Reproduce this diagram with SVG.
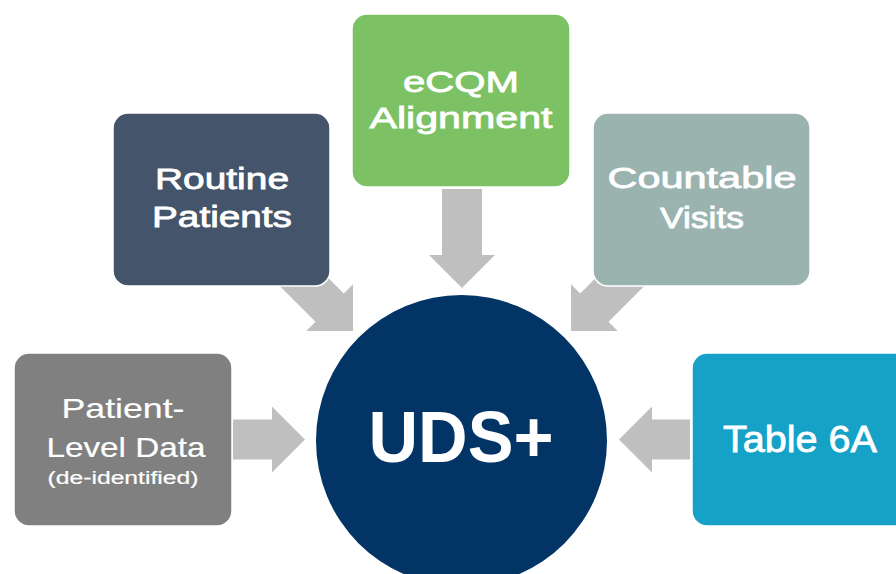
<svg xmlns="http://www.w3.org/2000/svg" width="896" height="574" viewBox="0 0 896 574">
<defs>
<style>
.box{stroke:#ffffff;stroke-width:1.5}
.arrow{fill:#BFBFBF}
.t{fill:#ffffff;font-family:"Liberation Sans",Arial,sans-serif;font-weight:400;text-anchor:middle;stroke:#ffffff;stroke-width:0.8px;paint-order:stroke}
.t31{font-size:30px}
.lt{stroke-width:0.2px}
</style>
</defs>
<rect width="896" height="574" fill="#ffffff"/>
<g id="connectors">
<path class="arrow" transform="translate(353,331) rotate(45)" d="M0,0 L-33,-33 L-33,-20 L-100,-20 L-100,20 L-33,20 L-33,33 Z"/>
<path class="arrow" transform="translate(571,331) rotate(135)" d="M0,0 L-33,-33 L-33,-20 L-100,-20 L-100,20 L-33,20 L-33,33 Z"/>
<path class="arrow" transform="translate(462,288) rotate(90)" d="M0,0 L-33,-33 L-33,-20 L-99,-20 L-99,20 L-33,20 L-33,33 Z"/>
<path class="arrow" transform="translate(305,439.5)" d="M0,0 L-33,-33 L-33,-20 L-72,-20 L-72,20 L-33,20 L-33,33 Z"/>
<path class="arrow" transform="translate(619,439.5) rotate(180)" d="M0,0 L-33,-33 L-33,-20 L-71,-20 L-71,20 L-33,20 L-33,33 Z"/>
</g>
<g id="uds">
<circle cx="461.5" cy="440.5" r="145.5" fill="#023466"/>
<text class="t" x="461" y="462" font-size="72" style="font-weight:700;stroke-width:0" textLength="185" lengthAdjust="spacingAndGlyphs">UDS+</text>
</g>
<g id="routine">
<rect class="box" x="113" y="113" width="217" height="173" rx="15" fill="#44546A"/>
<text class="t t31" x="222" y="189" textLength="134" lengthAdjust="spacingAndGlyphs">Routine</text>
<text class="t t31" x="222" y="227" textLength="140" lengthAdjust="spacingAndGlyphs">Patients</text>
</g>
<g id="ecqm">
<rect class="box" x="352" y="14" width="218" height="173" rx="15" fill="#7CC264"/>
<text class="t t31" x="461" y="92" textLength="116" lengthAdjust="spacingAndGlyphs">eCQM</text>
<text class="t t31" x="461" y="128" textLength="183" lengthAdjust="spacingAndGlyphs">Alignment</text>
</g>
<g id="countable">
<rect class="box" x="593" y="113" width="217" height="173" rx="15" fill="#9AB3AF"/>
<text class="t t31" x="702" y="188" textLength="189" lengthAdjust="spacingAndGlyphs">Countable</text>
<text class="t t31" x="702" y="228" textLength="84" lengthAdjust="spacingAndGlyphs">Visits</text>
</g>
<g id="patientlevel">
<rect class="box" x="14" y="353" width="218" height="173" rx="15" fill="#808080"/>
<text class="t lt" x="123" y="418" font-size="28" textLength="123" lengthAdjust="spacingAndGlyphs">Patient-</text>
<text class="t lt" x="126" y="457" font-size="28" textLength="159" lengthAdjust="spacingAndGlyphs">Level Data</text>
<text class="t lt" x="123" y="484" font-size="18" textLength="151" lengthAdjust="spacingAndGlyphs">(de-identified)</text>
</g>
<g id="table6a">
<rect class="box" x="692" y="353" width="220" height="173" rx="15" fill="#16A1C6"/>
<text class="t" x="800" y="452" font-size="37" textLength="154" lengthAdjust="spacingAndGlyphs">Table 6A</text>
</g>
</svg>
